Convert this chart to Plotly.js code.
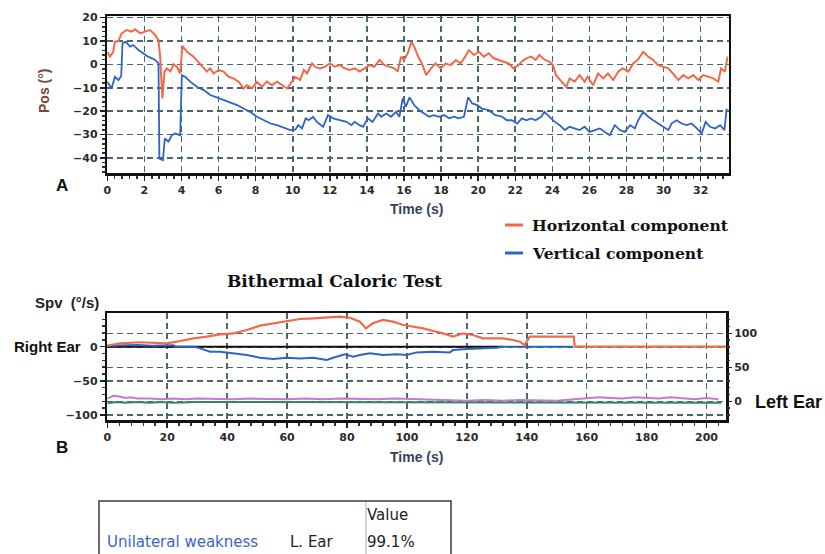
<!DOCTYPE html>
<html>
<head>
<meta charset="utf-8">
<script src="https://cdn.plot.ly/plotly-3.0.1.min.js"></script>
<style>html,body{margin:0;padding:0;background:#fff;}#chart{width:825px;height:554px;}</style>
</head>
<body>
<div id="chart"></div>
<script>
// ---------- Panel A: eye position (deg) vs time (s) ----------
const horizA_t = [0,0.14,0.32,0.41,0.6,0.77,1.05,1.3,1.5,1.77,2.04,2.3,2.58,2.76,2.85,2.97,3.08,3.2,3.4,3.57,3.75,3.93,4.05,4.3,4.65,5.0,5.37,5.55,5.73,6.0,6.27,6.54,6.8,7.08,7.35,7.53,7.8,8.07,8.34,8.6,8.88,9.15,9.42,9.7,9.96,10.14,10.4,10.6,10.77,11.04,11.2,11.46,11.73,12.0,12.27,12.54,12.8,13.07,13.34,13.6,13.88,14.14,14.4,14.68,14.95,15.2,15.48,15.66,15.84,16.0,16.2,16.4,16.55,16.73,17.0,17.2,17.45,17.7,17.98,18.25,18.5,18.8,19.05,19.3,19.5,19.77,20.04,20.3,20.57,20.84,21.1,21.4,21.64,21.9,22.18,22.4,22.6,22.86,23.1,23.3,23.6,23.86,24.03,24.2,24.5,24.75,24.93,25.2,25.47,25.74,25.9,26.2,26.47,26.74,27.0,27.28,27.55,27.8,28.1,28.36,28.6,28.9,29.17,29.44,29.7,29.98,30.25,30.5,30.8,31.06,31.33,31.6,31.87,32.14,32.4,32.68,32.95,33.1,33.3,33.45];
const horizA_v = [5.4,3.3,5.4,9.7,10,13.3,14.7,14,15,13.3,14,14.7,12.6,10.4,3.3,-14.6,-3.1,-1.7,-3,0,-1,-3.9,7.9,5.4,3.3,0.4,-3.1,-1.7,-3.9,-2.4,-3.1,-5.3,-6,-7.4,-10.3,-8.9,-10.3,-7.4,-9.6,-7.4,-8.9,-7.4,-8.9,-10.3,-7.4,-5.3,-6.7,-2.4,-3.9,0.4,-1,-1.7,-1,0.4,-1,-0.3,-1.7,-2.4,-1.7,-3.1,-1.7,-0.3,-1,1.9,-0.3,-1,-1.7,-3.1,3.3,1.9,4.7,9.7,7.6,4,-0.3,-4.6,-1.7,0.4,-1.7,0.4,-0.3,1.9,0.4,3.3,6.1,4,5.4,3.3,4.7,2.6,1.9,1.1,0.4,-1.7,-0.3,1.5,2.6,3.3,1.9,4,1.9,1.1,-0.3,-4.6,-7.4,-9.6,-6,-7.4,-4.6,-7.4,-5.3,-8.9,-3.9,-6,-3.9,-6.7,-3.1,-1.7,-3.1,0.4,1.9,5.4,3.3,1.9,-0.3,-1,-1.7,-3.9,-6.7,-4.6,-6,-4.6,-6.7,-4.6,-5.3,-6,-7.4,-1.7,-3.1,3.3];

const vertA_t = [0,0.23,0.41,0.6,0.75,0.82,1.0,1.22,1.4,1.68,1.95,2.2,2.4,2.58,2.76,2.81,3.0,3.1,3.3,3.48,3.66,3.93,4.02,4.2,4.47,4.83,5.2,5.55,5.9,6.27,6.63,7.0,7.35,7.7,8.07,8.43,8.8,9.15,9.5,9.87,10.14,10.3,10.5,10.7,10.86,11.1,11.3,11.64,11.9,12.18,12.54,12.9,13.16,13.34,13.6,13.8,14.05,14.3,14.6,14.77,15.04,15.3,15.57,15.75,15.93,16.1,16.3,16.55,16.82,17.1,17.36,17.6,17.9,18.16,18.43,18.7,18.96,19.23,19.46,19.68,19.95,20.2,20.57,20.93,21.3,21.55,21.82,22.1,22.36,22.6,22.86,23.1,23.4,23.57,23.86,24.13,24.4,24.67,24.93,25.2,25.47,25.74,26.0,26.3,26.56,26.83,27.1,27.37,27.64,27.9,28.2,28.45,28.63,28.9,29.17,29.44,29.7,29.98,30.25,30.43,30.7,30.97,31.24,31.5,31.8,32.05,32.27,32.5,32.78,33.05,33.28,33.4];
const vertA_v = [-7.4,-10.3,-5.3,-6.7,-5,9,9.7,7.6,8.3,6.1,4.7,3.3,2.6,1.9,0.4,-40.3,-41,-31.7,-33,-30.3,-29.6,-30.3,-4.6,-5.3,-7.4,-9.6,-11,-13.1,-14.1,-15.3,-16.4,-17.4,-18.9,-20.3,-22.4,-23.9,-25.3,-26,-27,-28.1,-27.9,-26,-27.4,-23.1,-23.9,-22.4,-24.6,-26.7,-21.7,-23.1,-23.9,-24.6,-26,-24.6,-26,-26.7,-23.1,-24.6,-21,-22.4,-21,-22.4,-20.3,-22.4,-14.6,-18.1,-14.1,-17.4,-19.6,-21,-22.4,-21.7,-22.4,-21.7,-23.1,-22.4,-23.1,-22.4,-14.1,-16.7,-17.4,-18.9,-19.6,-21.7,-22.4,-23.9,-23.9,-25.3,-23.1,-23.9,-23.1,-23.9,-22.4,-20.3,-22.4,-24.6,-26,-28.1,-26.7,-27.4,-28.1,-26.7,-28.9,-28.1,-27.4,-28.9,-30.3,-26,-28.1,-28.9,-26,-27.4,-23.9,-20.3,-22.4,-23.9,-25.3,-26.7,-28.1,-25.3,-23.9,-25.3,-26,-25.3,-27.4,-29.6,-24.6,-26.7,-27.4,-26,-28.1,-18.9];

const seriesNames = ['Horizontal component', 'Vertical component'];

// ---------- Panel B: slow phase velocity (deg/s) vs time (s) ----------
const rightEarBase_t = [0, 132];
const rightEarBase_v = [0, 0];
const rightWarm_t = [0.1,4.3,11,20,24.3,28.8,33.2,37.7,42.1,46.6,51,55.4,59.9,64.3,68.8,73.2,77.7,81,84.3,86.3,88.6,92,95.3,98.8,102,105.4,108.8,112,115.4,118.8,122,125.4,128.8,132,135.4,137.7,139.3,141,145.4,150,155.7,156,207];
const rightWarm_v = [1.5,5,6.5,5,8.3,12.3,14.7,18.1,19.6,24.5,30.8,34.2,37.6,40.5,41.5,42.5,44,42.4,36.6,26.9,34.2,39.1,36.6,31.7,29.3,26.9,22.9,19.6,14.7,19.6,17.1,12.3,12.3,12.3,9.8,7.4,2.4,14.7,14.7,14.7,14.7,0,0];
const rightCold_t = [0,5,10,15,22,23,29,31,34.3,37.7,42.1,46.6,51,55.4,59.9,64.3,68.8,73.2,75.4,79.3,82.1,84.3,87.7,92,96.6,99.9,103.2,108.8,114.3,115.4,119.9,125.4,129.9,132,155.4];
const rightCold_v = [1.5,2,2.5,1.5,2,0,0,-2.4,-7.3,-7.3,-9.7,-12.2,-16.1,-18.1,-16.1,-17.1,-16.1,-19.5,-16.1,-11.2,-14.6,-12.2,-9.7,-12.2,-11.2,-12.2,-8.3,-7.3,-8.3,-4.9,-3.4,-2.4,-1.5,0,0];
const leftWarm_t = [0,2,4,6,8,10,14,18,22,26,30,36,42,48,54,60,66,72,78,84,90,96,102,108,114,120,126,132,138,144,150,156,160,164,168,172,176,180,184,188,192,196,200,204];
const leftWarm_v = [4,8,7,5,6,4,4,3,4,3,4,3,3,4,3,3,4,3,4,3,3,4,3,2,2,1,2,1,2,1,1,3,4,6,5,4,6,5,4,6,5,3,5,3];
const leftCold_t = [0,3,6,10,14,18,22,30,40,60,80,100,112,130,160,205];
const leftCold_v = [-3,-1,-2,-1,-2,-1,-2,-1,-1,-1,-1,-1,-1.5,-2,-2,-2];

// ---------- Table ----------
const tableHeader = ['', '', 'Value'];
const tableCol1 = ['Unilateral weakness'];
const tableCol2 = ['L. Ear'];
const tableCol3 = ['99.1%'];

// ---------- styling ----------
const W = 825, H = 554;
const PX = x => x / W, PY = y => 1 - y / H;
const ORANGE = '#f06a4a', BLUE = '#2f63c6';
const gridColor = '#4a6670';
const tickFont = {family: 'DejaVu Sans', size: 11, weight: 'bold', color: '#2a2a2a'};

function axisBase(extra) {
  return Object.assign({
    ticks: 'outside', ticklen: 5, tickwidth: 1.5, tickcolor: '#222',
    showgrid: true, gridcolor: gridColor, gridwidth: 1.6, griddash: '6px,4px',
    showline: true, linecolor: '#111', linewidth: 2.5, mirror: true,
    zeroline: false, tickfont: tickFont, fixedrange: true
  }, extra);
}

const traces = [
  {x: horizA_t, y: horizA_v, xaxis: 'x', yaxis: 'y', type: 'scatter', mode: 'lines', name: seriesNames[0], line: {color: ORANGE, width: 2}},
  {x: vertA_t, y: vertA_v, xaxis: 'x', yaxis: 'y', type: 'scatter', mode: 'lines', name: seriesNames[1], line: {color: BLUE, width: 1.8}},
  {x: rightEarBase_t, y: rightEarBase_v, xaxis: 'x2', yaxis: 'y2', type: 'scatter', mode: 'lines', line: {color: '#111', width: 2}},
  {x: rightCold_t, y: rightCold_v, xaxis: 'x2', yaxis: 'y2', type: 'scatter', mode: 'lines', line: {color: BLUE, width: 2}},
  {x: rightWarm_t, y: rightWarm_v, xaxis: 'x2', yaxis: 'y2', type: 'scatter', mode: 'lines', line: {color: ORANGE, width: 2.2}},
  {x: leftCold_t, y: leftCold_v, xaxis: 'x2', yaxis: 'y3', type: 'scatter', mode: 'lines', line: {color: '#2e8b57', width: 2}},
  {x: leftWarm_t, y: leftWarm_v, xaxis: 'x2', yaxis: 'y3', type: 'scatter', mode: 'lines', line: {color: '#c479d2', width: 2}},
  {
    type: 'table',
    domain: {x: [PX(99), PX(451)], y: [0, PY(501)]},
    columnwidth: [183, 77, 92],
    header: {values: tableHeader, align: 'left', height: 27,
      font: {family: 'DejaVu Sans', size: 15, color: '#222'},
      fill: {color: 'white'}, line: {color: 'rgba(0,0,0,0)', width: 0}},
    cells: {values: [tableCol1, tableCol2, tableCol3], align: 'left', height: 26,
      font: {family: 'DejaVu Sans', size: 15, color: ['#3a64c8', '#222', '#222']},
      fill: {color: 'white'}, line: {color: 'rgba(0,0,0,0)', width: 0}}
  }
];

function ann(text, x, y, opts) {
  return Object.assign({text: text, x: PX(x), y: PY(y), xref: 'paper', yref: 'paper',
    showarrow: false, xanchor: 'center', yanchor: 'middle'}, opts);
}
const sans = (size, color) => ({family: 'Liberation Sans', size: size, weight: 'bold', color: color || '#111'});
const serif = (size) => ({family: 'DejaVu Serif', size: size, weight: 'bold', color: '#111'});

const layout = {
  width: W, height: H,
  margin: {l: 0, r: 0, t: 0, b: 0},
  paper_bgcolor: '#ffffff', plot_bgcolor: '#ffffff',
  showlegend: false,
  xaxis: axisBase({domain: [PX(107.3), PX(728.5)], anchor: 'y', range: [0, 33.5], tick0: 0, dtick: 2,
    minor: {tick0: 0, dtick: 0.4, ticks: 'outside', ticklen: 3, tickcolor: '#333', showgrid: false}}),
  yaxis: axisBase({domain: [PY(173.3), PY(16)], anchor: 'x', range: [-46.6, 20.7], tick0: 0, dtick: 10,
    minor: {tick0: 0, dtick: 2, ticks: 'outside', ticklen: 3, tickcolor: '#333', showgrid: false}}),
  xaxis2: axisBase({domain: [PX(107.3), PX(726)], anchor: 'y2', range: [0, 206.5], tick0: 0, dtick: 20,
    minor: {tick0: 0, dtick: 4, ticks: 'outside', ticklen: 3, tickcolor: '#333', showgrid: false}}),
  yaxis2: axisBase({domain: [PY(420), PY(313)], anchor: 'x2', range: [-107.2, 49.3], tickmode: 'array', tickvals: [-100, -50, 0],
    minor: {tickmode: 'linear', tick0: 0, dtick: 10, ticks: 'outside', ticklen: 3, tickcolor: '#333', showgrid: false}}),
  yaxis3: axisBase({overlaying: 'y2', side: 'right', anchor: 'x2', range: [-27.5, 129.9], tickmode: 'array', tickvals: [0, 50, 100],
    showline: false, mirror: false,
    minor: {tickmode: 'linear', tick0: 0, dtick: 10, ticks: 'outside', ticklen: 3, tickcolor: '#333', showgrid: false}}),
  shapes: [
    {type: 'line', xref: 'paper', yref: 'paper', x0: PX(505), x1: PX(523), y0: PY(225), y1: PY(225), line: {color: ORANGE, width: 3}},
    {type: 'line', xref: 'paper', yref: 'paper', x0: PX(505), x1: PX(523), y0: PY(253), y1: PY(253), line: {color: BLUE, width: 3}},
    {type: 'rect', xref: 'paper', yref: 'paper', x0: PX(99), x1: PX(451), y0: PY(560), y1: PY(501), line: {color: '#3a3a3a', width: 1.5}},
    {type: 'line', xref: 'paper', yref: 'paper', x0: PX(366), x1: PX(366), y0: PY(560), y1: PY(502), line: {color: '#c4c8cc', width: 1.5}}
  ],
  annotations: [
    ann('A', 62, 185, {font: sans(17)}),
    ann('B', 62, 447, {font: sans(17)}),
    ann('Pos (°)', 44, 91, {textangle: -90, font: sans(14, '#7a4a35')}),
    ann('Time (s)', 416, 209, {font: sans(14, '#35415c')}),
    ann('Time (s)', 416, 457, {font: sans(14, '#35415c')}),
    ann(seriesNames[0], 530, 225, {xanchor: 'left', font: serif(15.6)}),
    ann(seriesNames[1], 530, 253, {xanchor: 'left', font: serif(15.6)}),
    ann('Bithermal Caloric Test', 334, 281, {font: serif(17)}),
    ann('Spv&nbsp;&nbsp;(°/s)', 33, 302, {xanchor: 'left', font: sans(15, '#222')}),
    ann('Right Ear', 12, 346, {xanchor: 'left', font: sans(15)}),
    ann('Left Ear', 753, 402, {xanchor: 'left', font: sans(18)})
  ]
};

Plotly.newPlot('chart', traces, layout, {displayModeBar: false, staticPlot: true});
</script>
</body>
</html>
